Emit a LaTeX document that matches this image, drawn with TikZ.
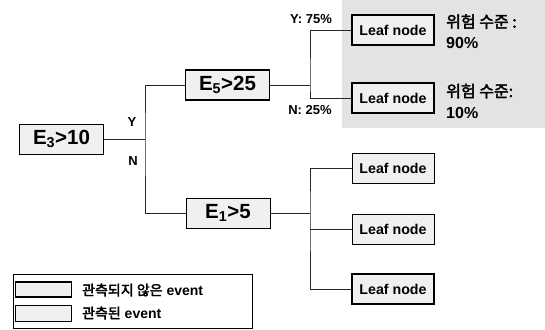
\documentclass[tikz,border=0pt]{standalone}
\usepackage{fontspec}
\setmainfont{Liberation Sans}
\newfontfamily\kr{Noto Sans CJK KR}[AutoFakeBold=2.5]
\begin{document}
\begin{tikzpicture}[x=1pt,y=-1pt,
  cond/.style={draw, fill=black!6, inner sep=0pt, minimum width=84pt, minimum height=30pt, font=\fontsize{20.5}{20}\selectfont\bfseries},
  leaf/.style={draw, fill=black!6, inner sep=0pt, minimum width=82pt, minimum height=30pt, font=\fontsize{14.2}{14}\selectfont\bfseries},
  obs/.style={line width=0.9pt},
  unobs/.style={line width=1.9pt},
  wire/.style={line width=0.9pt, black!85},
  lab/.style={inner sep=0pt, font=\fontsize{13}{13}\selectfont\bfseries},
  risk/.style={inner sep=0pt, anchor=west, align=left, font=\fontsize{16}{21}\selectfont\bfseries}]
\useasboundingbox (0,0) rectangle (545,329);
\fill[black!11] (342,0) rectangle (545,128);

\node[cond, obs]   (e3) at (61.5,139) {E\textsubscript{3}>10};
\node[cond, unobs] (e5) at (227.5,85) {E\textsubscript{5}>25};
\node[cond, obs]   (e1) at (228,213) {E\textsubscript{1}>5};

\node[leaf, unobs] (l1) at (393,30) {Leaf node};
\node[leaf, unobs] (l2) at (393,98) {Leaf node};
\node[leaf, obs]   (l3) at (393,168) {Leaf node};
\node[leaf, obs]   (l4) at (393,229) {Leaf node};
\node[leaf, unobs] (l5) at (393,289) {Leaf node};

\coordinate (j1) at (145,139);
\coordinate (j2) at (310,85);
\coordinate (j3) at (310,213);

\draw[wire] (e3.east) -- (j1);
\draw[wire] (e5.west) -| (j1) |- (e1.west);
\draw[wire] (e5.east) -- (j2);
\draw[wire] (l1.west) -| (j2) |- (l2.west);
\draw[wire] (e1.east) -- (j3);
\draw[wire] (l3.west) -| (j3) |- (l5.west);
\draw[wire] (j3 |- l4.west) -- (l4.west);

\node[lab] (y1) at (132,122) {Y};
\node[lab] (n1) at (133,161) {N};
\node[lab] (y2) at (311,19) {Y: 75\%};
\node[lab] (n2) at (310,110) {N: 25\%};

\node[risk] (r1) at (446,31.5) {{\kr\bfseries 위험 수준 :}\\90\%};
\node[risk] (r2) at (446,101) {{\kr\bfseries 위험 수준:}\\10\%};

\node[draw, obs, anchor=north west, inner sep=0pt, minimum width=239pt, minimum height=54pt] (leg) at (13,274) {};
\node[draw, unobs, fill=black!6, inner sep=0pt, minimum width=56pt, minimum height=15pt] (s1) at (43.5,289.5) {};
\node[draw, obs, fill=black!6, inner sep=0pt, minimum width=56pt, minimum height=16pt] (s2) at (43.5,313.5) {};
\node[anchor=west, inner sep=0pt, font=\fontsize{14}{14}\selectfont\bfseries] (t1) at (82,290) {{\kr\bfseries 관측되지 않은} event};
\node[anchor=west, inner sep=0pt, font=\fontsize{14}{14}\selectfont\bfseries] (t2) at (82,313) {{\kr\bfseries 관측된} event};
\end{tikzpicture}
\end{document}
